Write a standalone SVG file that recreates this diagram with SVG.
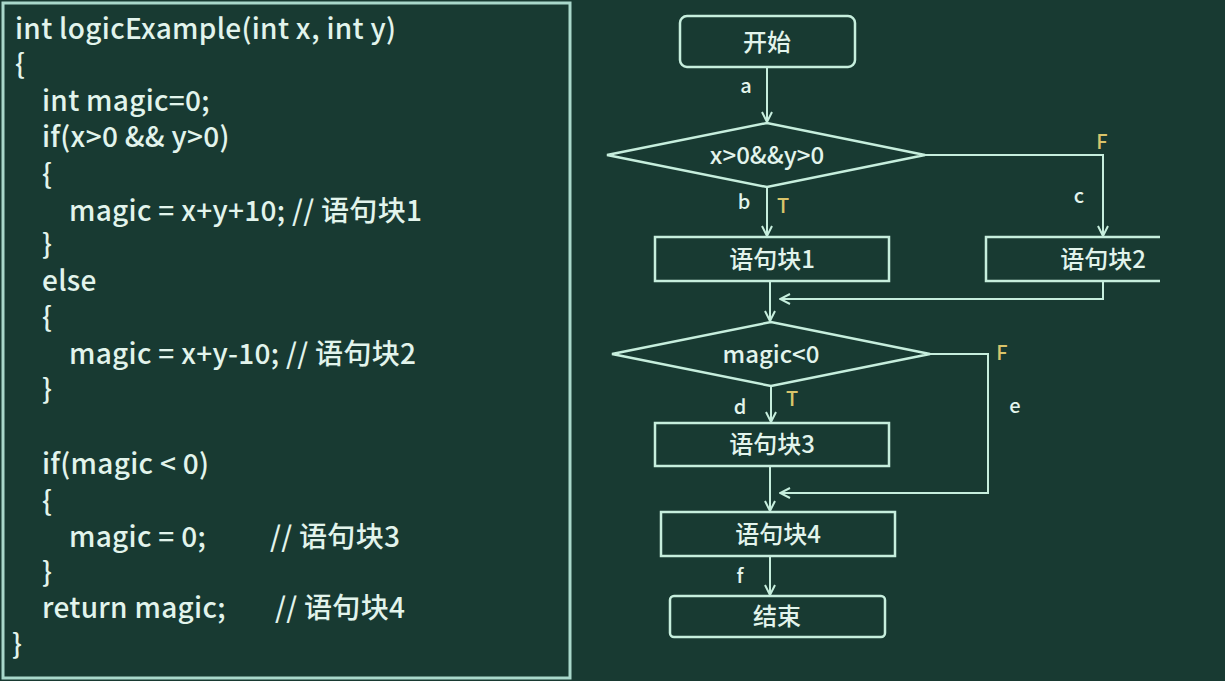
<svg xmlns="http://www.w3.org/2000/svg" width="1225" height="681" viewBox="0 0 1225 681">
<defs>
<style>
.code{font-family:"Noto Sans CJK SC","Noto Sans",sans-serif;font-size:28px;font-weight:500;fill:#e2f4ec;letter-spacing:0.3px}
.lbl{font-family:"Noto Sans CJK SC","Noto Sans",sans-serif;font-size:24px;font-weight:500;fill:#e2f4ec;text-anchor:middle}
.sm{font-family:"Noto Sans CJK SC","Noto Sans",sans-serif;font-size:20px;font-weight:500;fill:#e2f4ec;text-anchor:middle}
.tf{font-family:"Noto Sans CJK SC","Noto Sans",sans-serif;font-size:20px;font-weight:500;fill:#d9c46a;text-anchor:middle}
.shape{fill:none;stroke:#c6eedd;stroke-width:2.5}
.ln{fill:none;stroke:#c6eedd;stroke-width:2}
</style>
<marker id="ar" viewBox="0 0 12 12" refX="11" refY="6" markerWidth="12" markerHeight="12" markerUnits="userSpaceOnUse" orient="auto"><path d="M1,1 L11,6 L1,11" fill="none" stroke="#c6eedd" stroke-width="2"/></marker>
</defs>
<rect width="1225" height="681" fill="#183a32"/>
<rect x="3" y="3" width="567" height="675" fill="none" stroke="#a9d8cb" stroke-width="3"/>
<g id="code">
<text class="code" x="15" y="39">int logicExample(int x, int y)</text>
<text class="code" x="15" y="74">{</text>
<text class="code" x="42" y="111">int magic=0;</text>
<text class="code" x="42" y="147">if(x&gt;0 &amp;&amp; y&gt;0)</text>
<text class="code" x="42" y="184">{</text>
<text class="code" x="69" y="221">magic = x+y+10; // 语句块1</text>
<text class="code" x="42" y="254">}</text>
<text class="code" x="42" y="291">else</text>
<text class="code" x="42" y="327">{</text>
<text class="code" x="69" y="364">magic = x+y-10; // 语句块2</text>
<text class="code" x="42" y="399">}</text>
<text class="code" x="42" y="474">if(magic &lt; 0)</text>
<text class="code" x="42" y="511">{</text>
<text class="code" x="69" y="547">magic = 0;</text>
<text class="code" x="270" y="547">// 语句块3</text>
<text class="code" x="42" y="582">}</text>
<text class="code" x="42" y="618">return magic;</text>
<text class="code" x="275" y="618">// 语句块4</text>
<text class="code" x="12" y="654">}</text>
</g>
<g id="connectors">
<path class="ln" d="M767,67 V122" marker-end="url(#ar)"/>
<path class="ln" d="M925,155 H1103 V236" marker-end="url(#ar)"/>
<path class="ln" d="M767,187 V236" marker-end="url(#ar)"/>
<path class="ln" d="M770,281 V321" marker-end="url(#ar)"/>
<path class="ln" d="M1103,281 V299 H780" marker-end="url(#ar)"/>
<path class="ln" d="M771,386 V422" marker-end="url(#ar)"/>
<path class="ln" d="M930,354 H988 V493 H780" marker-end="url(#ar)"/>
<path class="ln" d="M770,466 V511" marker-end="url(#ar)"/>
<path class="ln" d="M770,556 V595" marker-end="url(#ar)"/>
<text class="sm" x="746" y="93">a</text>
<text class="sm" x="744" y="209">b</text>
<text class="tf" x="783" y="213">T</text>
<text class="tf" x="1102" y="149">F</text>
<text class="sm" x="1079" y="203">c</text>
<text class="tf" x="1002" y="360">F</text>
<text class="sm" x="740" y="414">d</text>
<text class="tf" x="792" y="406">T</text>
<text class="sm" x="1015" y="413">e</text>
<text class="sm" x="740" y="583">f</text>
</g>
<g id="start"><rect class="shape" x="680" y="16" width="175" height="51" rx="7"/><text class="lbl" x="767" y="51">开始</text></g>
<g id="cond1"><polygon class="shape" points="607,155 767,123 925,155 767,187"/><text class="lbl" x="767" y="164">x&gt;0&amp;&amp;y&gt;0</text></g>
<g id="block1"><rect class="shape" x="655" y="237" width="234" height="44"/><text class="lbl" x="772" y="268">语句块1</text></g>
<g id="block2"><path class="shape" d="M1160,237 H986 V281 H1160"/><text class="lbl" x="1103" y="268">语句块2</text></g>
<g id="cond2"><polygon class="shape" points="612,354 771,322 930,354 771,386"/><text class="lbl" x="771" y="363">magic&lt;0</text></g>
<g id="block3"><rect class="shape" x="655" y="423" width="234" height="43"/><text class="lbl" x="772" y="453">语句块3</text></g>
<g id="block4"><rect class="shape" x="661" y="512" width="234" height="44"/><text class="lbl" x="778" y="543">语句块4</text></g>
<g id="end"><rect class="shape" x="670" y="596" width="215" height="41" rx="4"/><text class="lbl" x="777" y="625">结束</text></g>
</svg>
